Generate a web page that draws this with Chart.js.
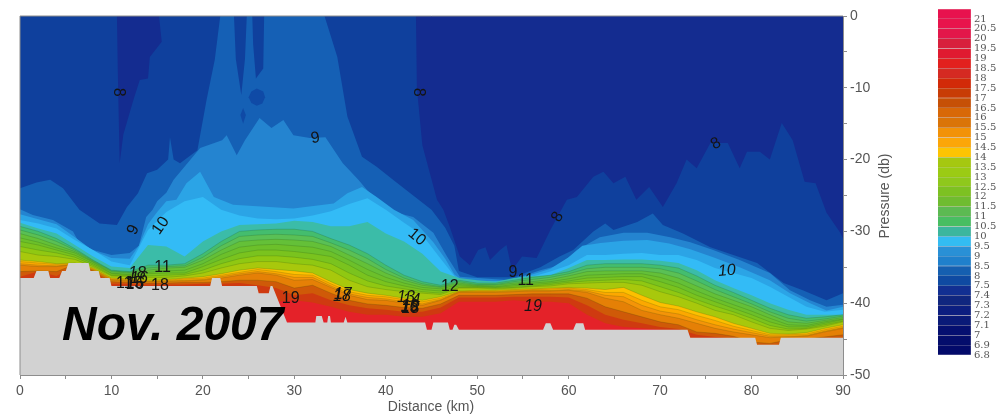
<!DOCTYPE html>
<html>
<head>
<meta charset="utf-8">
<title>Nov. 2007 section</title>
<script src="https://cdn.jsdelivr.net/npm/chart.js@4"></script>
<style>
  html, body { margin: 0; padding: 0; background: #fff; overflow: hidden; }
  canvas { position: absolute; top: 0; filter: blur(0.6px); }
  #section { left: 0; }
  #scaleBar { left: 930px; }
</style>
</head>
<body>
<canvas id="section" width="930" height="417"></canvas>
<canvas id="scaleBar" width="68" height="417"></canvas>
<script>
// shared stations for the deeper isotherms
const distanceKm = [0,2,4,6,8,10,12,14,16,18,20,22,24,26,28,30,32,34,36,38,40,42,44,46,48,50,52,54,56,58,60,62,64,66,68,70,72,74,76,78,80,82,84,86,88,90];

const iso10 = [-28.4,-28.9,-29.6,-31.2,-32.6,-34.2,-34.7,-29.8,-27.3,-25.8,-25.2,-27,-27.8,-28.2,-28.3,-28.2,-27.8,-27.2,-26.2,-25.4,-27,-28.8,-30.5,-33.8,-37,-37,-37.3,-37.2,-36.3,-35.6,-34.7,-33.3,-33.3,-33.1,-33,-33.3,-33.3,-34,-35.1,-35.8,-36.5,-37.7,-39.1,-40.5,-41.2,-40.9];
const iso10_5 = [-28.8,-29.6,-30.3,-31.9,-33.5,-34.9,-35.1,-31.9,-32.1,-33.5,-31.4,-30,-29.1,-29,-28.9,-28.5,-28.7,-29.3,-29.3,-28.7,-30.3,-31.4,-33.1,-35.6,-36.5,-36.8,-37,-36.5,-36.2,-36.1,-35.1,-34,-34,-33.9,-33.9,-34.1,-34.4,-35.4,-36.8,-37.9,-38.9,-40,-40.9,-41.6,-41.6,-41.6];
const iso11 = [-29.3,-30,-31,-32.4,-34,-35.4,-35.6,-34.7,-34.7,-34.5,-33.1,-31.4,-30,-29.8,-29.7,-29.7,-30,-31,-31.9,-33.1,-34.7,-36.1,-37,-37.5,-36.8,-37.2,-37.2,-36.8,-36.4,-36.1,-35.6,-34.7,-34.5,-34.5,-34.5,-34.7,-35.1,-36.2,-37.5,-38.5,-39.6,-40.7,-41.6,-42.1,-41.9,-41.6];
const iso11_5 = [-29.8,-30.5,-31.4,-32.6,-34.1,-35.5,-35.7,-35.1,-34.9,-34.8,-33.6,-32,-30.7,-30.5,-30.4,-30.5,-30.7,-31.6,-32.6,-33.8,-35.3,-36.5,-37.3,-37.7,-37,-37.4,-37.4,-37,-36.7,-36.4,-35.9,-35.2,-35,-35,-35,-35.2,-35.8,-36.9,-38.1,-39.1,-40.1,-41.2,-42.1,-42.5,-42.2,-41.8];
const iso12 = [-30.3,-31,-31.9,-32.8,-34.2,-35.6,-35.8,-35.4,-35.1,-35,-34,-32.6,-31.4,-31.2,-31.1,-31.2,-31.4,-32.1,-33.3,-34.5,-35.8,-36.8,-37.5,-37.8,-37.2,-37.5,-37.5,-37.2,-37,-36.7,-36.2,-35.6,-35.5,-35.5,-35.5,-35.8,-36.5,-37.6,-38.7,-39.6,-40.5,-41.6,-42.6,-42.8,-42.4,-42];
const iso12_5 = [-30.9,-31.5,-32.3,-33,-34.3,-35.8,-36,-35.7,-35.5,-35.4,-34.5,-33.2,-32.2,-31.9,-31.8,-32,-32.2,-32.8,-34,-35.3,-36.4,-37.2,-37.8,-38,-37.4,-37.6,-37.7,-37.4,-37.2,-37,-36.6,-36.1,-36,-35.9,-35.9,-36.4,-37.2,-38.3,-39.3,-40.2,-41.1,-42.1,-43,-43.1,-42.6,-42.2];
const iso13 = [-31.4,-31.9,-32.6,-33.3,-34.5,-35.9,-36.1,-35.9,-35.8,-35.8,-34.9,-33.9,-33,-32.6,-32.6,-32.8,-33.1,-33.5,-34.7,-36.1,-37,-37.6,-38.1,-38.3,-37.6,-37.7,-37.8,-37.6,-37.4,-37.2,-36.9,-36.5,-36.4,-36.3,-36.3,-37,-37.8,-38.9,-39.8,-40.7,-41.6,-42.6,-43.3,-43.3,-42.8,-42.3];
const iso13_5 = [-32.1,-32.6,-33,-33.6,-34.7,-36.1,-36.2,-36.2,-36.1,-36,-35.4,-34.5,-33.8,-33.4,-33.4,-33.6,-33.9,-34.5,-35.8,-36.9,-37.6,-38,-38.4,-38.6,-37.8,-37.8,-37.9,-37.8,-37.6,-37.4,-37.1,-36.9,-36.8,-36.7,-36.9,-37.7,-38.5,-39.5,-40.4,-41.2,-42.1,-43.1,-43.6,-43.5,-43,-42.5];
const iso14 = [-32.8,-33.3,-33.5,-33.9,-34.9,-36.2,-36.3,-36.4,-36.4,-36.2,-35.8,-35.1,-34.5,-34.2,-34.2,-34.5,-34.7,-35.4,-36.8,-37.7,-38.1,-38.4,-38.6,-38.8,-37.9,-37.9,-38,-37.9,-37.7,-37.6,-37.3,-37.2,-37.1,-37.1,-37.5,-38.4,-39.1,-40,-41,-41.6,-42.6,-43.5,-43.8,-43.6,-43.2,-42.6];
const iso14_5 = [-34,-34.2,-34.5,-34.4,-35.1,-36.5,-36.6,-36.8,-36.7,-36.5,-36.3,-35.9,-35.4,-35.1,-35.3,-35.5,-35.8,-37,-38.1,-38.6,-38.9,-39.3,-39.6,-39.1,-38.3,-38.2,-38.2,-38.1,-38,-37.9,-37.8,-37.9,-38.1,-37.8,-38.9,-39.9,-40.4,-41.2,-41.9,-42.8,-43.5,-44.2,-44.3,-44.1,-43.5,-43];
const iso15 = [-34.2,-34.4,-34.6,-34.5,-35.2,-36.6,-36.7,-36.9,-36.8,-36.6,-36.5,-36.1,-35.7,-35.3,-35.6,-36,-36.1,-37.3,-38.4,-38.9,-39.1,-39.5,-39.8,-39.3,-38.4,-38.3,-38.3,-38.2,-38.1,-38,-37.9,-38.1,-38.5,-38.5,-39.6,-40.5,-40.9,-41.7,-42.4,-43.2,-43.8,-44.4,-44.4,-44.3,-43.7,-43.2];
const iso15_5 = [-34.5,-34.7,-34.8,-34.6,-35.3,-36.7,-36.8,-37,-36.9,-36.8,-36.7,-36.3,-35.9,-35.6,-35.9,-36.4,-36.4,-37.6,-38.7,-39.2,-39.4,-39.8,-40.1,-39.5,-38.4,-38.4,-38.4,-38.3,-38.2,-38.2,-38.1,-38.3,-38.9,-39.1,-40.3,-41.1,-41.5,-42.3,-43,-43.6,-44.1,-44.6,-44.6,-44.5,-43.9,-43.4];
const iso16 = [-34.7,-34.9,-34.9,-34.6,-35.4,-36.8,-36.9,-37,-37,-36.9,-36.8,-36.5,-36.1,-35.8,-36.1,-36.8,-36.7,-37.8,-38.9,-39.5,-39.6,-40,-40.3,-39.6,-38.5,-38.5,-38.5,-38.4,-38.3,-38.3,-38.2,-38.5,-39.3,-39.8,-41,-41.6,-42.1,-42.8,-43.5,-44,-44.4,-44.8,-44.7,-44.6,-44,-43.5];
const iso17 = [-35.6,-35.5,-35.6,-34.6,-35.5,-37,-37.1,-37.2,-37.2,-37.1,-37.1,-37,-36.8,-36.8,-37,-37.9,-37.5,-38.6,-39.6,-40.1,-40.3,-40.6,-40.7,-40.1,-38.9,-38.9,-38.9,-38.8,-38.7,-38.7,-38.7,-39.3,-40.5,-41.2,-41.9,-42.6,-43,-44,-44.2,-44.6,-45.4,-45.6,-45.1,-45,-44.7,-44.4];
const iso18 = [-36.3,-35.6,-36.2,-34.7,-35.6,-37.3,-37.3,-37.4,-37.4,-37.4,-37.3,-37.3,-37.2,-37.5,-37.9,-38.9,-38.6,-39.6,-40.3,-40.7,-40.9,-41.2,-41.2,-40.6,-39.2,-39.2,-39.2,-39.1,-39.1,-39.1,-39.2,-40.3,-41.6,-42.3,-42.8,-43.3,-43.6,-44.4,-44.7,-44.9,-45.8,-46,-46,-46,-46,-46];
const iso19 = [-38,-38,-38,-38,-38,-38.5,-38.5,-38.5,-38.5,-38.5,-38.5,-38.5,-38.5,-39.5,-39.8,-39.6,-39.9,-40.5,-41.2,-41.6,-41.6,-41.9,-41.9,-41.4,-39.8,-39.8,-39.8,-39.6,-39.8,-39.8,-40,-41.6,-42.8,-43.3,-43.5,-43.7,-44,-46,-46,-46,-46,-46,-46,-46,-46,-46];

// upper isotherms wander a lot, so they keep their own [km, db] readings
const iso7_5 = [[0,0],[90,0]];
const iso8 = [[0,0],[10.6,0],[10.7,-8],[10.9,-20.5],[11.3,-16.5],[12.4,-11.7],[13.1,-8.9],[14,-8.7],[14.2,-5.7],[15.5,-3.6],[15.2,0],[43.3,0],[43.4,-10],[44,-18],[45.6,-25.6],[46.3,-27],[47,-29.4],[48.1,-33.5],[49.2,-34.7],[50.1,-32.6],[50.9,-32.2],[51.4,-34],[52.5,-32.6],[53.2,-31.9],[53.8,-35.4],[54.9,-33.5],[56.5,-33.7],[58,-29.8],[59.8,-25.6],[60.9,-25.2],[62.7,-22.4],[63.8,-21.7],[64.9,-23.3],[66.2,-22.4],[67.4,-25.6],[68.8,-23.8],[70.3,-26.6],[71.8,-23.3],[72.9,-20],[74,-21.2],[75.5,-17.7],[77.4,-17.7],[78.7,-21.2],[79.5,-18.9],[80.9,-18.9],[82,-20],[83.3,-14.9],[84.5,-17.3],[85.8,-23.1],[87,-23.3],[88.2,-27.4],[89.7,-30.2],[90,-31]];
const iso8_5 = [[0,-24],[1.8,-23.2],[3.3,-22.8],[4.7,-24],[6.5,-27],[8.7,-28.9],[10.6,-29.1],[11.7,-26.6],[12.9,-24.7],[13.9,-21.9],[15,-21.4],[16.2,-20],[16.4,-16.9],[16.8,-20],[17.5,-20.5],[19.4,-18.7],[20.4,-11.7],[21.3,-6.1],[21.9,0],[23.4,0],[23.6,-6],[24.2,-11],[24.6,-6],[24.8,0],[25.4,0],[25.5,-4],[25.8,-8.7],[26.6,-7.3],[26.7,0],[33.3,0],[34.7,-5.7],[35.8,-14],[37.4,-19.6],[39,-21],[41,-23],[43,-25],[45,-27],[46.5,-29.5],[47.5,-32],[48,-35.5],[50,-36.4],[54,-36.4],[56.9,-35],[59,-33.5],[60.5,-32.6],[62.7,-30],[64,-28.9],[64.9,-29.8],[67.5,-28.7],[69.2,-27.5],[70.3,-29.1],[72.5,-30.3],[75.5,-32.2],[78,-33.3],[80.6,-34.4],[83.5,-37.2],[85.6,-38.2],[88.2,-39.6],[90,-38.6]];
const iso9 = [[0,-26.9],[1.4,-27.7],[3.6,-28.4],[5.8,-30],[6.9,-32.6],[8,-32.6],[10,-33.3],[12,-33],[13,-32],[13.8,-28],[14.5,-27],[15,-25.8],[16,-24.6],[16.8,-22.8],[19.7,-18.4],[22.1,-17.3],[22.6,-16.6],[23.7,-19.4],[24.6,-17.3],[26.2,-14.2],[27.5,-15.6],[28.8,-14.5],[29.9,-16.6],[31.7,-17],[33.4,-16.9],[35.3,-20.5],[37,-22.8],[38.6,-25.2],[41.2,-27.4],[43,-28],[45.2,-30.2],[46.7,-33.5],[48.1,-36.3],[53.6,-36.8],[56.9,-35.4],[59,-34.7],[60.9,-32.6],[63.4,-30.8],[66,-30.2],[68.6,-30.2],[71.1,-30.8],[73.3,-31.5],[75.8,-32.6],[78.7,-34],[82,-35.8],[84.2,-38.2],[86.4,-39.6],[88.2,-40.5],[90,-40.2]];
const iso9_5 = [[0,-27.6],[2,-28.3],[4,-29],[6,-30.8],[8,-32.7],[10,-33.7],[12,-33.8],[13,-32],[14,-29],[15,-27.3],[16,-25.8],[17.1,-25.6],[18.2,-23.3],[19.7,-21.7],[21.2,-25.2],[23.3,-26.3],[29.9,-26.8],[34.3,-26.1],[35.8,-24.7],[37.4,-23.8],[39,-25.2],[40.9,-27],[43,-28.4],[45.2,-31.5],[46.5,-33.8],[47.5,-36],[48.5,-36.9],[53,-36.9],[56,-36],[58,-35.2],[60,-33.6],[61.5,-32],[63.5,-31.6],[66,-31.3],[68.6,-31.2],[71,-31.7],[73.3,-32.5],[75.8,-33.6],[78.7,-35],[82,-36.8],[84.2,-38.6],[86.4,-40],[88.2,-41],[90,-40.5]];

// closed cold patches left inside the 8.5-9 band
const patchA = [[25.9,-10.1],[26.6,-10.5],[26.8,-11.3],[26.5,-12.2],[25.9,-12.5],[25.3,-12.1],[25,-11.3],[25.3,-10.5],[25.9,-10.1]];
const patchB = [[24.4,-12.8],[24.7,-13.8],[24.4,-15],[24.1,-13.8],[24.4,-12.8]];

// sea floor, read as the grey edge
const seabed = [[0,-36.5],[1.5,-36.5],[1.8,-35.5],[3.1,-35.5],[3.3,-36.5],[4.3,-36.5],[4.6,-35.5],[5,-35.5],[5.3,-34.4],[7.5,-34.4],[7.7,-35.5],[8.6,-35.5],[8.8,-36.5],[9.8,-36.5],[10,-37.6],[20.8,-37.6],[21,-36.5],[21.9,-36.5],[22.1,-37.6],[25.9,-37.6],[26.1,-38.6],[27.2,-38.6],[27.4,-37.6],[27.6,-37.6],[29.2,-42.7],[32.3,-42.7],[32.4,-41.8],[33,-41.8],[33.2,-42.7],[33.6,-42.7],[33.7,-41.8],[33.9,-41.8],[34,-42.7],[35.4,-42.7],[35.6,-41.9],[35.8,-42.7],[44.3,-42.7],[44.5,-43.7],[45,-43.7],[45.2,-42.7],[46.8,-42.7],[47,-43.7],[47.3,-43.7],[47.5,-43],[47.7,-43],[48,-43.7],[57.2,-43.7],[57.5,-42.8],[58,-42.8],[58.3,-43.7],[60.5,-43.7],[60.8,-42.8],[61.6,-42.8],[61.8,-43.7],[73,-43.7],[73.3,-44.8],[80.4,-44.8],[80.6,-45.8],[83,-45.8],[83.2,-44.8],[90,-44.8]];

// contour labels
const labelText = ["8","8","8","8","9","9","10","11","18","10","12","9","11","19","19","10","18","16","15","11","16","17","18","13","14","16","15","18"];
const labelKm = [10.8,43.6,76.1,58.8,32.3,12.4,15.4,15.6,15.3,43.4,47,53.9,55.3,56.1,29.6,77.3,12.8,13,12.5,11.4,12.6,35.3,35.2,42.2,42.8,42.6,42.6,42.7];
const labelDb = [-10.6,-10.6,-17.8,-28,-17,-29.8,-29.2,-35,-37.6,-30.8,-37.7,-35.8,-36.9,-40.4,-39.3,-35.5,-35.9,-36.6,-37.2,-37.2,-37.4,-38.8,-39.1,-39.2,-39.7,-40.4,-40.6,-40.7];
const labelAngle = [90,90,-30,-60,-10,-65,-55,0,0,40,0,0,0,0,0,-5,0,0,0,0,0,0,0,0,0,0,0,0];
const labelStyle = ["","","","","","","","","","","","","","italic","","italic","italic","italic","","","italic","italic","italic","italic","italic","italic","italic","italic"];

// colour scale, top to bottom
const scaleLevels = ["21","20.5","20","19.5","19","18.5","18","17.5","17","16.5","16","15.5","15","14.5","14","13.5","13","12.5","12","11.5","11","10.5","10","9.5","9","8.5","8","7.5","7.4","7.3","7.2","7.1","7","6.9","6.8"];
const scaleColors = ["#e8124e","#e8144c","#e3174a","#d81f3c","#e01a30","#e2201e","#d52a22","#d22a08","#c83c06","#c65006","#d86808","#da7408","#f29208","#fca608","#fdc402","#a5c810","#9bcb14","#8fc81c","#7dc122","#6fbc30","#5cba52","#48be62","#3cb69e","#33bcf2","#2990d6","#1f80cc","#155fb0","#0f4aa2","#122f92","#10267f","#0c1e80","#0a1a78","#050f70","#040d6c","#030a6a"];

const stationPoints = (values) => values.map((db, i) => ({ x: distanceKm[i], y: db }));
const pairPoints = (pairs) => pairs.map(([x, y]) => ({ x, y }));

const contourEdge = "rgba(20,60,10,0.25)";
const bands = [
  { name: "7.5", points: pairPoints(iso7_5), color: "#142c90" },
  { name: "8", points: pairPoints(iso8), color: "#0f409d" },
  { name: "8.5", points: pairPoints(iso8_5), color: "#1560b5" },
  { name: "patchA", points: pairPoints(patchA), color: "#0f4aa6", shape: true },
  { name: "patchB", points: pairPoints(patchB), color: "#0f4aa6", shape: true },
  { name: "9", points: pairPoints(iso9), color: "#2484d0" },
  { name: "9.5", points: pairPoints(iso9_5), color: "#2ba4e6" },
  { name: "10", points: stationPoints(iso10), color: "#33bbf6" },
  { name: "10.5", points: stationPoints(iso10_5), color: "#3bbca8" },
  { name: "11", points: stationPoints(iso11), color: "#44bd6e", edge: contourEdge },
  { name: "11.5", points: stationPoints(iso11_5), color: "#5ac055", edge: contourEdge },
  { name: "12", points: stationPoints(iso12), color: "#64c038", edge: contourEdge },
  { name: "12.5", points: stationPoints(iso12_5), color: "#6cc02a", edge: contourEdge },
  { name: "13", points: stationPoints(iso13), color: "#7ac31e", edge: contourEdge },
  { name: "13.5", points: stationPoints(iso13_5), color: "#90c812", edge: contourEdge },
  { name: "14", points: stationPoints(iso14), color: "#a8c80c", edge: contourEdge },
  { name: "14.5", points: stationPoints(iso14_5), color: "#fdc000", edge: contourEdge },
  { name: "15", points: stationPoints(iso15), color: "#fca800", edge: contourEdge },
  { name: "15.5", points: stationPoints(iso15_5), color: "#f49408", edge: contourEdge },
  { name: "16", points: stationPoints(iso16), color: "#e58006", edge: contourEdge },
  { name: "17", points: stationPoints(iso17), color: "#cf5a08", edge: contourEdge },
  { name: "18", points: stationPoints(iso18), color: "#cf3a10" },
  { name: "19", points: stationPoints(iso19), color: "#e42229" },
  { name: "seabed", points: pairPoints(seabed), color: "#d2d2d2" },
];

const sectionText = {
  id: "sectionText",
  afterDraw(chart) {
    const { ctx, chartArea, scales: { x, y } } = chart;
    ctx.save();
    ctx.strokeStyle = "#8d8d8d";
    ctx.lineWidth = 1;
    ctx.beginPath();
    ctx.moveTo(chartArea.left, chartArea.bottom);
    ctx.lineTo(chartArea.left, chartArea.top);
    ctx.lineTo(chartArea.right, chartArea.top);
    ctx.stroke();

    ctx.textAlign = "center";
    ctx.textBaseline = "middle";
    labelText.forEach((text, i) => {
      ctx.save();
      ctx.translate(x.getPixelForValue(labelKm[i]), y.getPixelForValue(labelDb[i]));
      ctx.rotate((labelAngle[i] * Math.PI) / 180);
      ctx.fillStyle = "#141414";
      ctx.font = `${labelStyle[i]} 16px "Liberation Sans"`;
      ctx.fillText(text, 0, 0);
      ctx.restore();
    });

    ctx.fillStyle = "#000";
    ctx.font = 'italic bold 48px "Liberation Sans"';
    ctx.textAlign = "left";
    ctx.textBaseline = "alphabetic";
    ctx.fillText("Nov. 2007", 62, 340);

    ctx.fillStyle = "#555";
    ctx.font = '14px "Liberation Sans"';
    ctx.textAlign = "center";
    ctx.textBaseline = "middle";
    ctx.fillText("Distance (km)", 431, 407);
    ctx.translate(885, 196);
    ctx.rotate(-Math.PI / 2);
    ctx.fillText("Pressure (db)", 0, 0);
    ctx.restore();
  },
};

new Chart(document.getElementById("section"), {
  type: "line",
  data: {
    datasets: bands.map((band, i) => ({
      label: band.name,
      data: band.points,
      order: bands.length - i,
      fill: band.shape ? "shape" : "start",
      backgroundColor: band.color,
      borderColor: band.edge || band.color,
      borderWidth: band.edge ? 0.7 : 0,
      pointRadius: 0,
      tension: 0,
    })),
  },
  options: {
    responsive: false,
    animation: false,
    layout: { padding: { left: 20, top: 16, right: 0, bottom: 0 } },
    plugins: { legend: { display: false }, tooltip: { enabled: false } },
    scales: {
      x: {
        type: "linear",
        min: 0,
        max: 90,
        afterFit: (scale) => { scale.height = 42; },
        border: { color: "#8d8d8d" },
        grid: { drawOnChartArea: false, color: "#8d8d8d", tickLength: 4 },
        ticks: {
          stepSize: 5,
          autoSkip: false,
          maxRotation: 0,
          padding: 4,
          color: "#555",
          font: { family: "Liberation Sans", size: 14 },
          callback: (v) => (v % 10 === 0 ? v : ""),
        },
      },
      y: {
        type: "linear",
        position: "right",
        min: -50,
        max: 0,
        afterFit: (scale) => { scale.width = 87; },
        border: { color: "#8d8d8d" },
        grid: { drawOnChartArea: false, color: "#8d8d8d", tickLength: 4 },
        ticks: {
          stepSize: 5,
          autoSkip: false,
          padding: 3,
          color: "#555",
          font: { family: "Liberation Sans", size: 14 },
          callback: (v) => (v % 10 === 0 ? v : ""),
        },
      },
    },
  },
  plugins: [sectionText],
});

new Chart(document.getElementById("scaleBar"), {
  type: "bar",
  data: {
    labels: scaleLevels,
    datasets: [{
      data: scaleLevels.map(() => 1),
      backgroundColor: scaleColors,
      borderColor: "rgba(60,20,20,0.18)",
      borderWidth: 0.5,
      barPercentage: 1,
      categoryPercentage: 1,
    }],
  },
  options: {
    indexAxis: "y",
    responsive: false,
    animation: false,
    layout: { padding: { left: 8, top: 7, right: 0, bottom: 62 } },
    plugins: { legend: { display: false }, tooltip: { enabled: false } },
    scales: {
      x: { display: false, min: 0, max: 1 },
      y: {
        position: "right",
        afterFit: (scale) => { scale.width = 27; },
        border: { display: false },
        grid: { display: false, drawTicks: false },
        ticks: {
          autoSkip: false,
          padding: 3,
          labelOffset: 5,
          color: "#555",
          font: { family: "DejaVu Serif", size: 10 },
        },
      },
    },
  },
});
</script>
</body>
</html>
